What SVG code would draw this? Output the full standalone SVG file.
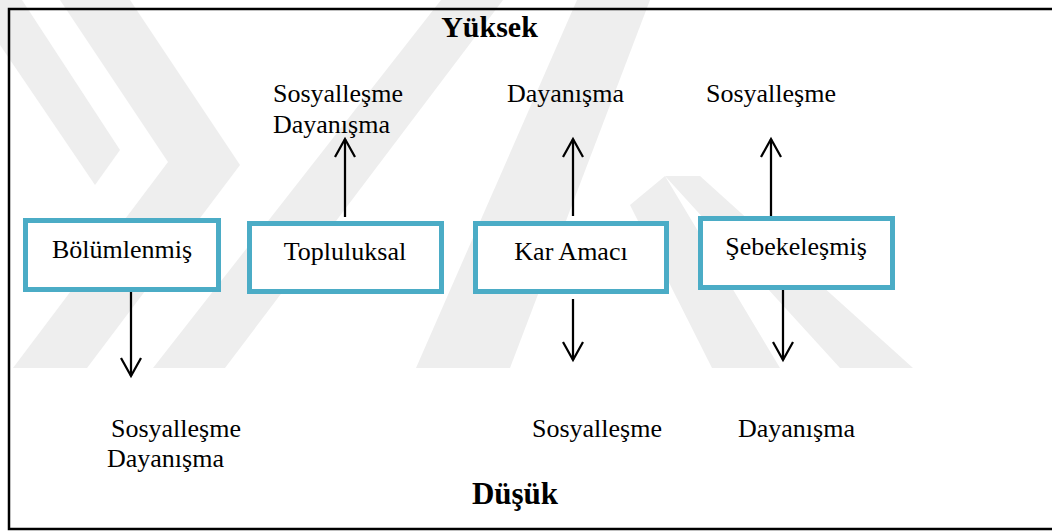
<svg xmlns="http://www.w3.org/2000/svg" width="1052" height="531" viewBox="0 0 1052 531">
  <defs>
    <style>
      .frame { fill: none; stroke: #000; stroke-width: 2.5; }
      .wm { fill: #eeeeee; }
      .box { fill: #fff; stroke: #4bacc6; stroke-width: 5; }
      .lbl { font-family: "Liberation Serif", "Times New Roman", serif; font-size: 26px; fill: #000; }
      .mid { text-anchor: middle; }
      .title { font-family: "Liberation Serif", "Times New Roman", serif; font-size: 30px; font-weight: bold; fill: #000; text-anchor: middle; }
      .arrow { fill: none; stroke: #000; stroke-width: 2.25; marker-end: url(#vhead); }
    </style>
    <marker id="vhead" markerUnits="userSpaceOnUse" orient="auto" refX="0" refY="0" markerWidth="40" markerHeight="40" overflow="visible">
      <path d="M-18,-10 L0,0 L-18,10" fill="none" stroke="#000" stroke-width="2.25" stroke-linejoin="miter"/>
    </marker>
  </defs>

  <rect width="1052" height="531" fill="#fff"/>

  <!-- faint background emblem made of diagonal bands -->
  <g id="emblem">
    <polygon class="wm" points="60,0 130,0 240,165 87,368 13,368 168,162"/>
    <polygon class="wm" points="0,0 22,0 120,150 95,185 0,45"/>
    <polygon class="wm" points="441,0 503,0 225,368 153,368"/>
    <polygon class="wm" points="577,0 650,0 510,368 416,368"/>
    <polygon class="wm" points="630,205 665,176 780,368 712,368"/>
    <polygon class="wm" points="665,176 700,176 913,368 840,368"/>
  </g>

  <rect class="frame" x="9" y="9" width="1050" height="520"/>

  <g id="connectors">
    <path class="arrow" d="M345,217 V139"/>
    <path class="arrow" d="M573,216 V139"/>
    <path class="arrow" d="M771,216 V139"/>
    <path class="arrow" d="M131,292 V376"/>
    <path class="arrow" d="M573,299 V360"/>
    <path class="arrow" d="M783,290 V360"/>
  </g>

  <g id="node-bolumlenmis">
    <rect class="box" x="25.5" y="220.5" width="193" height="69"/>
    <text class="lbl mid" x="122" y="258">Bölümlenmiş</text>
  </g>
  <g id="node-topluluksal">
    <rect class="box" x="249.5" y="223.5" width="192" height="68"/>
    <text class="lbl mid" x="345" y="260">Topluluksal</text>
  </g>
  <g id="node-kar-amaci">
    <rect class="box" x="475.5" y="223.5" width="191" height="68"/>
    <text class="lbl mid" x="571" y="260">Kar Amacı</text>
  </g>
  <g id="node-sebekelesmis">
    <rect class="box" x="700.5" y="218.5" width="192" height="69"/>
    <text class="lbl mid" x="796" y="255">Şebekeleşmiş</text>
  </g>

  <g id="labels">
    <text class="title" x="489.5" y="37">Yüksek</text>
    <text class="title" x="515" y="504" style="font-size:31px">Düşük</text>

    <text class="lbl" x="273" y="102">Sosyalleşme</text>
    <text class="lbl" x="273" y="133">Dayanışma</text>
    <text class="lbl" x="507" y="102">Dayanışma</text>
    <text class="lbl" x="706" y="102">Sosyalleşme</text>

    <text class="lbl" x="111" y="437">Sosyalleşme</text>
    <text class="lbl" x="107" y="467">Dayanışma</text>
    <text class="lbl" x="532" y="437">Sosyalleşme</text>
    <text class="lbl" x="738" y="437">Dayanışma</text>
  </g>
</svg>
